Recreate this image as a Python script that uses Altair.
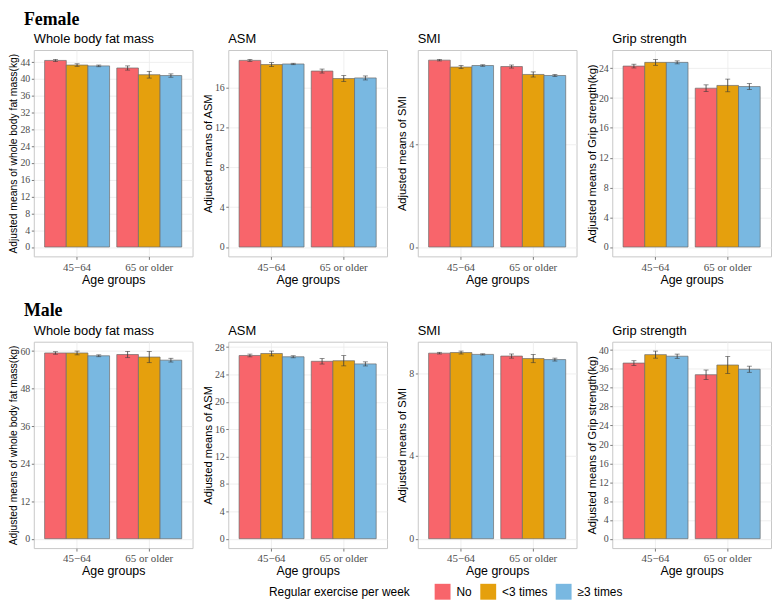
import altair as alt
import pandas as pd

# ---------------- data ----------------
sex_labels = ["Female", "Male"]
age_groups = ["45−64", "65 or older"]
exercise = ["No", "<3 times", "≥3 times"]

panel_titles = ["Whole body fat mass", "ASM", "SMI", "Grip strength"]
y_titles = ["Adjusted means of whole body fat mass(kg)", "Adjusted means of ASM",
            "Adjusted means of SMI", "Adjusted means of Grip strength(kg)"]

# order: 45-64 (No, <3, >=3), 65+ (No, <3, >=3)
fat_f = [44.4, 43.3, 43.1, 42.6, 41.0, 40.8]
fat_f_err = [0.25, 0.3, 0.2, 0.5, 0.8, 0.4]
asm_f = [18.70, 18.28, 18.34, 17.63, 16.88, 16.94]
asm_f_err = [0.1, 0.2, 0.07, 0.2, 0.3, 0.2]
smi_f = [7.31, 7.04, 7.10, 7.06, 6.75, 6.71]
smi_f_err = [0.03, 0.06, 0.03, 0.06, 0.1, 0.04]
grip_f = [24.3, 24.8, 24.8, 21.33, 21.7, 21.55]
grip_f_err = [0.25, 0.4, 0.2, 0.45, 0.85, 0.4]

fat_m = [59.4, 59.4, 58.5, 58.9, 58.1, 57.1]
fat_m_err = [0.4, 0.6, 0.3, 1.0, 1.8, 0.6]
asm_m = [26.77, 27.06, 26.58, 25.92, 26.0, 25.54]
asm_m_err = [0.2, 0.35, 0.15, 0.4, 0.75, 0.3]
smi_m = [8.96, 8.99, 8.90, 8.82, 8.70, 8.65]
smi_m_err = [0.04, 0.07, 0.03, 0.1, 0.2, 0.07]
grip_m = [37.25, 39.04, 38.7, 34.78, 36.84, 35.94]
grip_m_err = [0.5, 0.75, 0.45, 1.0, 1.8, 0.65]

female_tick_steps = [4, 4, 4, 4]
male_tick_steps = [12, 4, 4, 4]

bar_colors = ["#F8656B", "#E5A00D", "#79B8E1"]

SANS = "Liberation Sans"
SERIF = "Liberation Serif"
W, H = 160, 208


def panel(k, title, ytitle, means, errs, step):
    rows = []
    i = 0
    for a in age_groups:
        for e in exercise:
            rows.append(dict(age=a, ex=e, mean=means[i],
                             lo=means[i] - errs[i], hi=means[i] + errs[i]))
            i += 1
    df = pd.DataFrame(rows)
    top = float(df["hi"].max())
    dom = [-0.05 * top, 1.05 * top]
    ticks = list(range(0, int(dom[1]) + 1, step))

    x = alt.X("age:N", sort=age_groups, title="Age groups",
              scale=alt.Scale(paddingInner=0.1, paddingOuter=0.15),
              axis=alt.Axis(labelAngle=0, grid=True, bandPosition=0.5))
    xo = alt.XOffset("ex:N", sort=exercise,
                     scale=alt.Scale(paddingInner=0, paddingOuter=0))
    yscale = alt.Scale(domain=dom, nice=False, zero=False)
    yaxis = alt.Axis(values=ticks, labelOverlap=False,
                     titleFontSize=10.4 if k == 0 else 11.2)

    def Y(field):
        return alt.Y(field, type="quantitative", title=ytitle, scale=yscale, axis=yaxis)

    color = alt.Color("ex:N", sort=exercise,
                      scale=alt.Scale(domain=exercise, range=bar_colors),
                      legend=alt.Legend(title="Regular exercise per week",
                                        orient="none", legendX=237, legendY=575,
                                        direction="horizontal", titleOrient="left"))
    base = alt.Chart(df)
    bars = base.mark_bar(stroke="#6b6b6b", strokeWidth=0.7).encode(
        x=x, xOffset=xo, y=Y("mean"), y2=alt.datum(0), color=color)
    rules = base.mark_rule(color="#3a3a3a", strokeWidth=0.8).encode(
        x=x, xOffset=xo, y=Y("lo"), y2="hi:Q")
    cap_lo = base.mark_tick(color="#3a3a3a", size=5, thickness=0.8,
                            orient="horizontal").encode(x=x, xOffset=xo, y=Y("lo"))
    cap_hi = base.mark_tick(color="#3a3a3a", size=5, thickness=0.8,
                            orient="horizontal").encode(x=x, xOffset=xo, y=Y("hi"))
    return alt.layer(bars, rules, cap_lo, cap_hi).properties(
        width=W, height=H,
        title=alt.TitleParams(title, anchor="start", frame="group", font=SANS,
                              fontSize=13, fontWeight="normal", color="black", offset=4))


def label_chart(text, height, ypos):
    return alt.Chart(pd.DataFrame({"t": [text]})).mark_text(
        font=SERIF, fontSize=18, fontWeight="bold", color="black",
        align="left", baseline="middle"
    ).encode(
        x=alt.value(-10), y=alt.value(ypos), text="t:N"
    ).properties(width=100, height=height,
                 view=alt.ViewBackground(stroke="transparent"))


female_data = [(fat_f, fat_f_err), (asm_f, asm_f_err), (smi_f, smi_f_err), (grip_f, grip_f_err)]
male_data = [(fat_m, fat_m_err), (asm_m, asm_m_err), (smi_m, smi_m_err), (grip_m, grip_m_err)]


def row(data, steps):
    panels = [panel(k, panel_titles[k], y_titles[k], data[k][0], data[k][1], steps[k])
              for k in range(4)]
    return alt.hconcat(*panels, spacing=8)


chart = alt.vconcat(
    label_chart(sex_labels[0], 14, 7),
    row(female_data, female_tick_steps),
    label_chart(sex_labels[1], 32, 22),
    row(male_data, male_tick_steps),
    spacing=2,
).properties(
    padding=0
).configure_view(
    stroke="#C8C8C8", strokeWidth=1
).configure_axis(
    titleFont=SANS, titleFontWeight="normal", titleColor="black",
    labelFont=SERIF, labelColor="#4D4D4D",
    gridColor="#EBEBEB", gridWidth=0.8, domain=False,
    tickColor="#7a7a7a"
).configure_axisY(
    labelFontSize=10, tickSize=2.5, labelPadding=1.5, titlePadding=1
).configure_axisX(
    labelFontSize=11, titleFontSize=12.5, tickSize=3, labelPadding=2, titlePadding=1
).configure_legend(
    titleFont=SANS, titleFontSize=12, titleFontWeight="normal", titleColor="black",
    labelFont=SANS, labelFontSize=12, labelColor="black",
    symbolType="square", symbolSize=256, symbolStrokeWidth=0, symbolOpacity=1,
    titlePadding=24, columnPadding=8, labelOffset=6, titleBaseline="middle"
)

chart.save("out.html", embed_options={"renderer": "svg", "actions": False})
